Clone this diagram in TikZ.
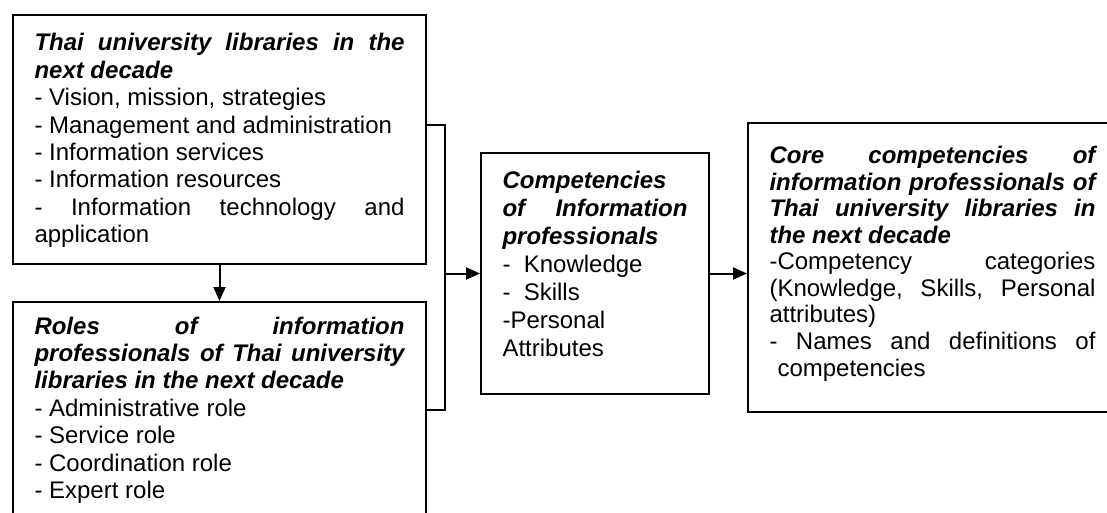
\documentclass[tikz,border=0pt]{standalone}
\usepackage{fontspec}
\setmainfont{Liberation Sans}
\usetikzlibrary{arrows.meta,positioning,calc}
\hyphenpenalty=10000
\exhyphenpenalty=10000
\tolerance=10000
\newcommand{\boxhead}[1]{\textbf{\textit{#1}}\par}

\begin{document}
\begin{tikzpicture}[>={Triangle[length=7pt,width=6pt]},line width=1pt,
    box/.style={draw,align=justify,inner xsep=10.75pt,inner ysep=9pt,text height=9pt,
      font=\fontsize{12}{13.7}\selectfont}]
    \useasboundingbox (0,0) rectangle (553.5pt,-256.5pt);
    % Left column
    \node[box,text width=185pt,text depth=97.5pt,anchor=north west] (thai) at (6pt,-7pt) {%
      \boxhead{Thai university libraries in the next decade}
      - Vision, mission, strategies\par
      - Management and administration\par
      - Information services\par
      - Information resources\par
      - Information technology and application};
    \node[box,text width=185pt,text height=7pt,text depth=112pt,below=18pt of thai] (roles) {%
      \boxhead{Roles of information professionals of Thai university libraries in the next decade}
      - Administrative role\par
      - Service role\par
      - Coordination role\par
      - Expert role};
    \draw[->] (thai) -- (roles);
    % Middle and right
    \node[box,text width=92.5pt,text depth=93.5pt,anchor=west,
      font=\fontsize{12}{14}\selectfont] (comp) at (240pt,-136.75pt) {%
      \boxhead{Competencies of Information professionals}
      -\ \ Knowledge\par
      -\ \ Skills\par
      -Personal Attributes};
    \node[box,text width=163pt,text height=11.5pt,text depth=115pt,right=18.5pt of comp,yshift=3pt,
      font=\fontsize{12}{13.25}\selectfont] (core) {%
      \boxhead{Core competencies of information professionals of Thai university libraries in the next decade}
      -Competency categories (Knowledge, Skills, Personal attributes)\par
      - Names and definitions of\linebreak\hspace*{4pt}competencies};
    % Bracket joining the two left boxes
    \coordinate (t1) at ([yshift=-55.5pt]thai.north east);
    \coordinate (t2) at ([yshift=-54.5pt]roles.north east);
    \coordinate (jn) at ([xshift=9pt]t1 |- comp.west);
    \draw (t1) -- ++(9pt,0) |- (t2);
    \draw[->] (jn) -- (comp);
    \draw[->] (comp.east) -- (comp.east -| core.west);
\end{tikzpicture}
\end{document}
